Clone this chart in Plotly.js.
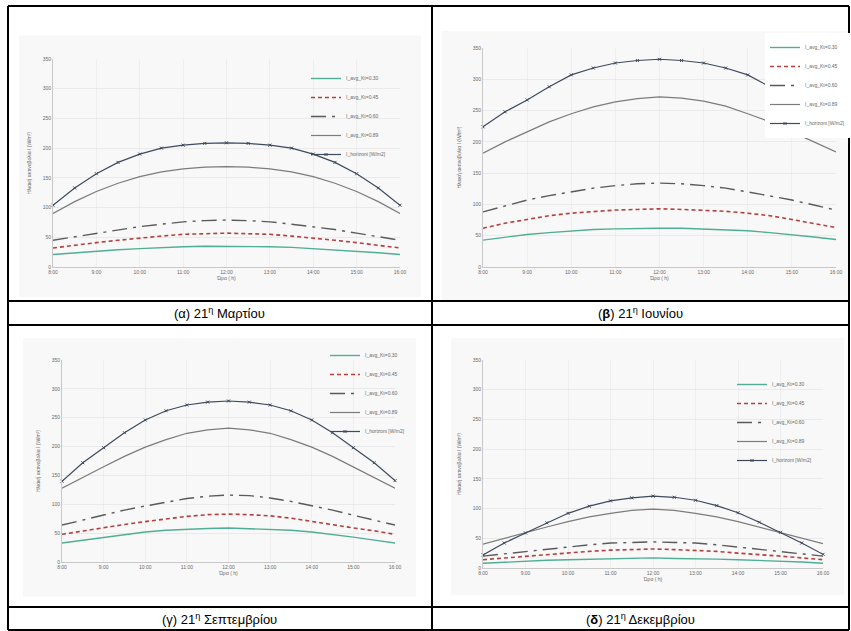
<!DOCTYPE html>
<html>
<head>
<meta charset="utf-8">
<script src="https://cdn.plot.ly/plotly-3.0.1.min.js"></script>
<style>html,body{margin:0;padding:0;background:#fff;}#chart{width:851px;height:631px;}</style>
</head>
<body>
<div id="chart"></div>
<script>
// ---- data ----
const times = [8, 8.5, 9, 9.5, 10, 10.5, 11, 11.5, 12, 12.5, 13, 13.5, 14, 14.5, 15, 15.5, 16];
const tickHours = [8, 9, 10, 11, 12, 13, 14, 15, 16];
const tickLabels = ['8:00', '9:00', '10:00', '11:00', '12:00', '13:00', '14:00', '15:00', '16:00'];
const seriesNames = ['I_avg_Kt=0.30', 'I_avg_Kt=0.45', 'I_avg_Kt=0.60', 'I_avg_Kt=0.89', 'I_horizont [W/m2]'];
const captions = ['(α) 21<sup>η</sup> Μαρτίου', '(<b>β</b>) 21<sup>η</sup> Ιουνίου', '(γ) 21<sup>η</sup> Σεπτεμβρίου', '(<b>δ</b>) 21<sup>η</sup> Δεκεμβρίου'];
const xTitle = 'Ώρα ( h)';
const yTitle = 'Ηλιακή ακτινοβολία I (W/m²)';
const yTicks = [0, 50, 100, 150, 200, 250, 300, 350];

// 21 March
const marS1 = [21, 24, 27, 29, 31, 33, 34, 35, 35, 35, 34, 33, 31, 29, 27, 24, 21];
const marS2 = [32, 37, 41, 45, 49, 52, 55, 56, 57, 56, 55, 52, 49, 45, 41, 37, 32];
const marS3 = [45, 51, 57, 63, 68, 72, 76, 78, 79, 78, 76, 72, 68, 63, 57, 51, 45];
const marS4 = [90, 110, 127, 141, 152, 160, 165, 168, 169, 168, 165, 160, 152, 141, 127, 110, 90];
const marH  = [104, 133, 157, 176, 190, 200, 205, 208, 209, 208, 205, 200, 190, 176, 157, 133, 104];
// 21 June
const junS1 = [43, 48, 52, 55, 58, 60, 61, 62, 62, 62, 61, 60, 58, 55, 52, 48, 44];
const junS2 = [62, 70, 76, 82, 86, 89, 91, 92, 93, 92, 91, 89, 86, 82, 76, 70, 63];
const junS3 = [88, 98, 107, 114, 120, 126, 130, 133, 134, 133, 130, 126, 120, 114, 107, 99, 91];
const junS4 = [182, 200, 216, 232, 245, 256, 264, 269, 272, 270, 265, 257, 245, 232, 216, 200, 184];
const junH  = [224, 248, 267, 288, 307, 318, 326, 330, 332, 330, 326, 318, 307, 288, 267, 248, 226];
// 21 September
const sepS1 = [33, 38, 43, 48, 52, 55, 57, 58, 59, 58, 57, 55, 52, 48, 43, 38, 33];
const sepS2 = [48, 54, 59, 65, 70, 75, 79, 82, 83, 82, 80, 76, 70, 65, 59, 54, 48];
const sepS3 = [64, 73, 81, 90, 97, 104, 110, 114, 116, 115, 111, 105, 98, 90, 81, 72, 64];
const sepS4 = [128, 147, 165, 183, 199, 212, 223, 229, 232, 229, 223, 212, 199, 183, 165, 147, 128];
const sepH  = [140, 172, 198, 224, 246, 262, 272, 277, 279, 277, 272, 262, 246, 224, 198, 172, 141];
// 21 December
const decS1 = [8, 10, 11, 13, 14, 15, 16, 16, 17, 16, 16, 15, 14, 13, 11, 10, 8];
const decS2 = [14, 17, 20, 23, 25, 28, 30, 31, 32, 31, 30, 28, 25, 23, 20, 17, 14];
const decS3 = [20, 24, 27, 31, 35, 39, 42, 43, 44, 43, 42, 39, 35, 31, 27, 24, 20];
const decS4 = [40, 50, 59, 69, 78, 86, 92, 97, 99, 97, 92, 86, 78, 69, 59, 50, 41];
const decH  = [22, 42, 59, 76, 92, 104, 113, 118, 121, 119, 114, 105, 93, 77, 60, 42, 23];

// ---- layout helpers ----
const W = 851, H = 631;
const px = x => x / W;
const py = y => 1 - y / H;

const styles = [
  {line: {color: '#4fae94', width: 1.4}, mode: 'lines'},
  {line: {color: '#b5403d', width: 1.6, dash: '4px,3px'}, mode: 'lines'},
  {line: {color: '#5a5a5a', width: 1.4, dash: 'longdashdot'}, mode: 'lines'},
  {line: {color: '#7c7c7c', width: 1.2}, mode: 'lines'},
  {line: {color: '#3f4a5e', width: 1.2}, mode: 'lines+markers', marker: {symbol: 'x-thin-open', size: 3, color: '#3f4a5e', line: {width: 1, color: '#3f4a5e'}}}
];

const charts = [
  {data: [marS1, marS2, marS3, marS4, marH], xd: [53, 400], yd: [267, 59], leg: [306, 64], img: [19, 35, 421, 297], legbg: 'rgba(255,255,255,0)'},
  {data: [junS1, junS2, junS3, junS4, junH], xd: [483, 836], yd: [267, 48], leg: [765, 33], img: [442, 31, 849, 300], legbg: '#ffffff'},
  {data: [sepS1, sepS2, sepS3, sepS4, sepH], xd: [62, 395], yd: [562, 360], leg: [325, 341], img: [23, 338, 416, 597], legbg: 'rgba(255,255,255,0)'},
  {data: [decS1, decS2, decS3, decS4, decH], xd: [483, 823], yd: [568, 360], leg: [732, 370], img: [451, 338, 844, 595], legbg: 'rgba(255,255,255,0)'}
];

const traces = [];
const layout = {
  width: W, height: H,
  margin: {l: 0, r: 0, t: 0, b: 0},
  paper_bgcolor: '#ffffff',
  plot_bgcolor: '#ffffff',
  font: {family: 'Liberation Sans, Arial, sans-serif', color: '#595959'},
  shapes: [], annotations: []
};

charts.forEach((c, i) => {
  const n = i + 1;
  const xa = 'x' + (n === 1 ? '' : n);
  const ya = 'y' + (n === 1 ? '' : n);
  const lg = 'legend' + (n === 1 ? '' : n);
  c.data.forEach((vals, k) => {
    const s = styles[k];
    const t = {
      type: 'scatter', x: times, y: vals, name: seriesNames[k],
      xaxis: xa, yaxis: ya, legend: lg, mode: s.mode, line: s.line,
      cliponaxis: false, hoverinfo: 'skip'
    };
    if (s.marker) t.marker = s.marker;
    traces.push(t);
  });
  layout['xaxis' + (n === 1 ? '' : n)] = {
    domain: [px(c.xd[0]), px(c.xd[1])], anchor: ya, range: [8, 16],
    tickmode: 'array', tickvals: tickHours, ticktext: tickLabels,
    tickfont: {size: 5, color: '#6a6a6a'}, ticks: '', showgrid: true, gridcolor: '#ebebeb', gridwidth: 0.8,
    showline: true, linecolor: '#c8c8c8', linewidth: 1, zeroline: false,
    title: {text: xTitle, font: {size: 5, color: '#6a6a6a'}, standoff: 2}
  };
  layout['yaxis' + (n === 1 ? '' : n)] = {
    domain: [py(c.yd[0]), py(c.yd[1])], anchor: xa, range: [0, 350],
    tickmode: 'array', tickvals: yTicks,
    tickfont: {size: 5, color: '#6a6a6a'}, ticks: '', showgrid: true, gridcolor: '#e6e6e6', gridwidth: 0.8,
    showline: true, linecolor: '#c8c8c8', linewidth: 1, zeroline: false,
    title: {text: yTitle, font: {size: 5, color: '#6a6a6a'}, standoff: 10}
  };
  layout[lg] = {
    x: px(c.leg[0]), y: py(c.leg[1]), xanchor: 'left', yanchor: 'top',
    bgcolor: c.legbg, borderwidth: 0, itemwidth: 30,
    font: {size: 5, color: '#6a6a6a'}
  };
  layout.shapes.push({type: 'rect', xref: 'paper', yref: 'paper', layer: 'below',
    x0: px(c.img[0]), x1: px(c.img[2]), y0: py(c.img[3]), y1: py(c.img[1]),
    fillcolor: '#f8f8f8', line: {width: 0}});
});

// table borders
const tl = {color: '#000000', width: 2};
const hLines = [[6, 8, 849], [301, 8, 849], [325, 8, 849], [607, 8, 849], [630, 8, 849]];
const vLines = [[8, 6, 630], [432, 6, 630], [849, 6, 630]];
hLines.forEach(h => layout.shapes.push({type: 'line', xref: 'paper', yref: 'paper', x0: px(h[1]), x1: px(h[2]), y0: py(h[0]), y1: py(h[0]), line: tl}));
vLines.forEach(v => layout.shapes.push({type: 'line', xref: 'paper', yref: 'paper', x0: px(v[0]), x1: px(v[0]), y0: py(v[1]), y1: py(v[2]), line: tl}));

// captions
const capPos = [[220, 313], [640, 313], [220, 619], [640, 619]];
captions.forEach((t, i) => layout.annotations.push({
  text: t, xref: 'paper', yref: 'paper', x: px(capPos[i][0]), y: py(capPos[i][1]),
  xanchor: 'center', yanchor: 'middle', showarrow: false,
  font: {family: 'Liberation Sans, Arial, sans-serif', size: 13, color: '#000000'}
}));

Plotly.newPlot('chart', traces, layout, {staticPlot: true, displayModeBar: false});
</script>
</body>
</html>
